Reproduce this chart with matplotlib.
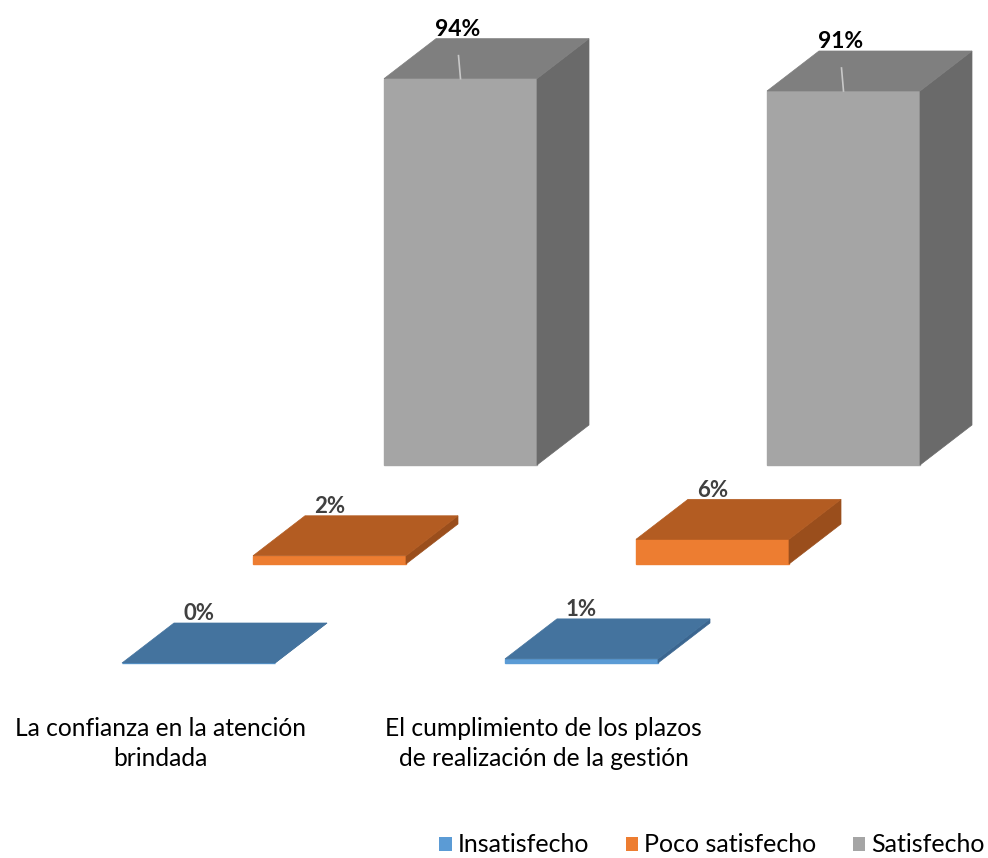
import matplotlib
matplotlib.use("Agg")
import matplotlib.pyplot as plt
from matplotlib.patches import Polygon, Patch

plt.rcParams['font.family'] = ['Lato', 'DejaVu Sans']

categories = ["La confianza en la atención\nbrindada",
              "El cumplimiento de los plazos\nde realización de la gestión"]
series = ["Insatisfecho", "Poco satisfecho", "Satisfecho"]
insatisfecho = [0, 1]
poco_satisfecho = [2, 6]
satisfecho = [94, 91]
values = [insatisfecho, poco_satisfecho, satisfecho]

front_colors = ["#5B9BD5", "#ED7D31", "#A5A5A5"]
top_colors = ["#44739E", "#B35C22", "#7F7F7F"]
side_colors = ["#3B6690", "#9A4E1C", "#6A6A6A"]

W, H = 988, 858
fig = plt.figure(figsize=(W / 100, H / 100), dpi=100)
ax = fig.add_axes([0, 0, 1, 1])

# scales: x in category units, y in percent
px_per_cat = 383.0
px_per_pct = 4.11
x0_px = 198.5   # center of first front bar
y0_px = 663.0   # baseline of front row
ax.set_xlim(-x0_px / px_per_cat, (W - x0_px) / px_per_cat)
ax.set_ylim((y0_px - H) / px_per_pct, y0_px / px_per_pct)
ax.axis('off')

bar_w = 153 / px_per_cat
row_dx = 131 / px_per_cat
row_dy = 99 / px_per_pct
dep_dx = 52 / px_per_cat
dep_dy = 40 / px_per_pct
lab_off = 9 / px_per_pct

for s in range(len(series) - 1, -1, -1):
    for c in range(len(categories)):
        v = values[s][c]
        xl = c - bar_w / 2 + s * row_dx
        xr = xl + bar_w
        yb = s * row_dy
        yt = yb + v
        # front face
        ax.add_patch(Polygon([(xl, yb), (xr, yb), (xr, yt), (xl, yt)],
                             closed=True, facecolor=front_colors[s],
                             edgecolor=front_colors[s], linewidth=1.0, zorder=2))
        # right side
        ax.add_patch(Polygon([(xr, yb), (xr + dep_dx, yb + dep_dy),
                              (xr + dep_dx, yt + dep_dy), (xr, yt)],
                             closed=True, facecolor=side_colors[s],
                             edgecolor=side_colors[s], linewidth=0.5, zorder=2))
        # top
        ax.add_patch(Polygon([(xl, yt), (xr, yt), (xr + dep_dx, yt + dep_dy),
                              (xl + dep_dx, yt + dep_dy)],
                             closed=True, facecolor=top_colors[s],
                             edgecolor=top_colors[s], linewidth=0.5, zorder=2))
        xc = (xl + xr) / 2
        big = s == len(series) - 1
        if big:
            ax.plot([xc, xc - 2 / px_per_cat], [yt, yt + 23 / px_per_pct],
                    color="#C8C8C8", lw=1.2, zorder=3)
        ax.text(xc - (3 / px_per_cat if big else 0), yt + dep_dy + lab_off,
                f"{v}%", ha='center', va='center',
                fontsize=16.5 if big else 16, fontweight='bold',
                color="#000000" if big else "#404040", zorder=4)

for c, lab in enumerate(categories):
    ax.text(c - 38 / px_per_cat, -54 / px_per_pct, lab, ha='center', va='top',
            fontsize=17.7, color="#000000", linespacing=1.38)

handles = [Patch(facecolor=col, edgecolor='none') for col in front_colors]
fig.legend(handles, series, loc='center right', bbox_to_anchor=(0.997, 1 - 845 / H),
           ncol=3, frameon=False, fontsize=18, handlelength=0.5, handleheight=0.5,
           handletextpad=0.25, columnspacing=1.45, borderaxespad=0, borderpad=0)

fig.savefig("out.png", dpi=100)
